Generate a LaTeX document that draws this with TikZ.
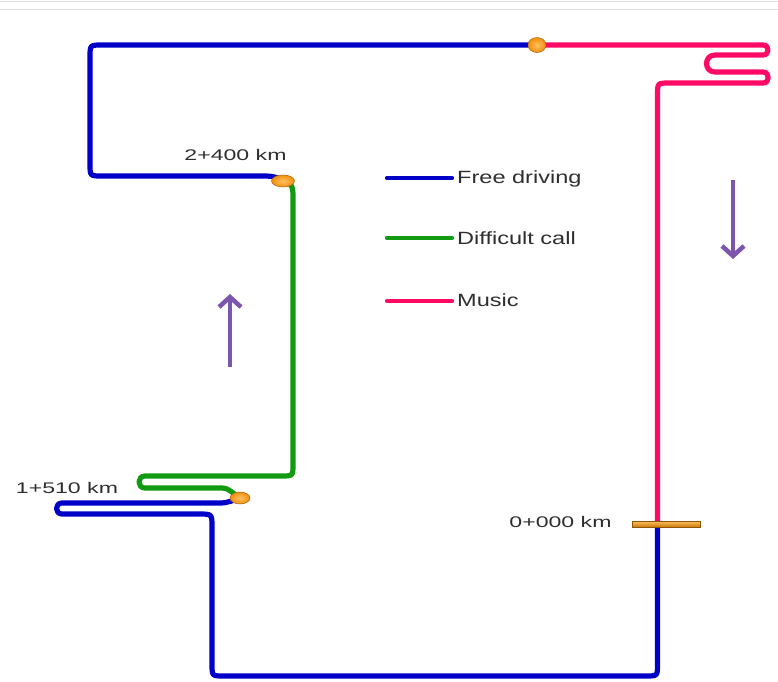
\documentclass[tikz,border=0pt]{standalone}
\usepackage{fontspec}
\setmainfont{Liberation Sans}
\usetikzlibrary{arrows.meta,shapes.geometric}
\definecolor{freeblue}{HTML}{0000C8}
\definecolor{callgreen}{HTML}{129A12}
\definecolor{musicpink}{HTML}{FF0A64}
\definecolor{dirpurple}{HTML}{7B55AE}
\definecolor{labelgray}{HTML}{2E2E2E}
\definecolor{dotorange}{HTML}{F0900E}
\definecolor{dotlight}{HTML}{FFC060}
\begin{document}
\begin{tikzpicture}[x=1pt,y=-1pt,
  track/.style={line width=5.2pt, line cap=round, line join=round},
  free/.style={track, draw=freeblue},
  call/.style={track, draw=callgreen},
  music/.style={track, draw=musicpink},
  legline/.style={line width=4.2pt, line cap=round},
  dot/.style={ellipse, minimum width=20pt, minimum height=13pt, inner sep=0pt,
    shade, inner color=dotlight, outer color=dotorange, draw=dotorange!70!black, line width=0.5pt},
  zerobar/.style={rectangle, minimum width=68pt, minimum height=6pt, inner sep=0pt,
    top color=dotlight, bottom color=dotorange!85!black, draw=dotorange!60!black, line width=0.5pt},
  kmlabel/.style={font=\fontsize{15.4}{16}\selectfont, text=labelgray, inner sep=0pt},
  legtext/.style={font=\fontsize{17.7}{18}\selectfont, text=labelgray, inner sep=0pt, anchor=base west},
  dirarrow/.style={line width=4.5pt, draw=dirpurple, -{Straight Barb[length=10pt,width=22pt]}}
]
\useasboundingbox (0,0) rectangle (778,681);
\fill[white] (0,0) rectangle (778,681);
\draw[gray!25, line width=0.8pt] (0,1.5) -- (778,1.5);
\draw[gray!25, line width=0.8pt] (0,9.3) -- (778,9.3);

\coordinate (pA) at (537,45);
\coordinate (pB) at (283,181);
\coordinate (pC) at (240,498);
\coordinate (pZ) at (657.5,522);

% free driving (top)
\draw[free] (pA) -- (102,45) .. controls (90,45) .. (90,57) -- (90,164)
  .. controls (90,176) .. (102,176) -- (264,176)
  .. controls (274,176) and (279,178) .. (pB);
% difficult call
\draw[call] (pB) .. controls (291,182) and (293,186) .. (293,196)
  -- (293,464) .. controls (293,476) .. (281,476) -- (145,476)
  .. controls (137,476) and (137,488) .. (145,488)
  -- (222,488) .. controls (230,488) and (234,495) .. (pC);
% free driving (bottom)
\draw[free] (pC) .. controls (234,500) and (228,503) .. (220,503) -- (62,503)
  .. controls (54.7,503) and (54.7,514) .. (62,514)
  -- (199,514) .. controls (212,514) .. (212,527) -- (212,664)
  .. controls (212,676) .. (224,676) -- (645.5,676)
  .. controls (657.5,676) .. (657.5,664) -- (pZ);
% music
\draw[music] (pA) -- (763,45) .. controls (769.7,45) and (769.7,55) .. (763,55)
  -- (715,55) .. controls (703.7,55) and (703.7,72) .. (715,72)
  -- (763,72) .. controls (770,72) and (770,83) .. (763,83)
  -- (669.5,83) .. controls (657.5,83) .. (657.5,95) -- (pZ);

% markers
\node[dot, minimum width=18pt, minimum height=15pt] (dA) at (pA) {};
\node[dot, minimum width=23pt, minimum height=12pt] (dB) at (pB) {};
\node[dot, minimum width=20pt, minimum height=12pt] (dC) at (pC) {};
\node[zerobar] (zero) at (666,524) {};

% km labels
\node[kmlabel] (lB) at (235.5,155) {\scalebox{1.5}[1]{2+400 km}};
\node[kmlabel] (lC) at (67,488) {\scalebox{1.5}[1]{1+510 km}};
\node[kmlabel] (lZ) at (560.5,522) {\scalebox{1.5}[1]{0+000 km}};

% legend
\coordinate (g1a) at (387,178); \coordinate (g1b) at (452,178);
\coordinate (g2a) at (387,238); \coordinate (g2b) at (452,238);
\coordinate (g3a) at (387,301); \coordinate (g3b) at (452,301);
\draw[legline, freeblue] (g1a) -- (g1b);
\draw[legline, callgreen] (g2a) -- (g2b);
\draw[legline, musicpink] (g3a) -- (g3b);
\node[legtext] (t1) at (457,183) {\scalebox{1.33}[1]{Free driving}};
\node[legtext] (t2) at (457,244) {\scalebox{1.33}[1]{Difficult call}};
\node[legtext] (t3) at (457,306.5) {\scalebox{1.33}[1]{Music}};

% direction arrows
\coordinate (upT) at (230,367); \coordinate (upH) at (230,294);
\coordinate (dnT) at (733,180); \coordinate (dnH) at (733,259);
\draw[dirarrow] (upT) -- (upH);
\draw[dirarrow] (dnT) -- (dnH);
\end{tikzpicture}
\end{document}
